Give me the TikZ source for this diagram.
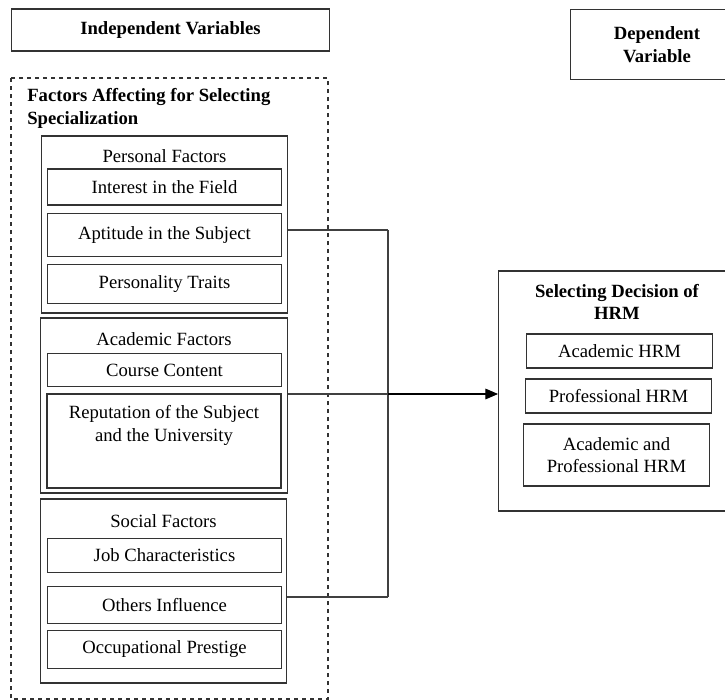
\documentclass[tikz,border=0pt]{standalone}
\usepackage{fontspec}
\setmainfont{Liberation Serif}
\usetikzlibrary{calc,positioning,arrows.meta}

\begin{document}
\begin{tikzpicture}[x=0.75pt,y=-0.75pt,>={Triangle[length=9.5pt,width=8pt]},font=\fontsize{14}{17}\selectfont]

	\tikzset{
		box/.style={draw=black!80,line width=0.9pt,rectangle,inner sep=0pt,align=center},
		bold text/.style={font=\fontsize{14}{17}\selectfont\bfseries},
		item box/.style={box,minimum width=175.5pt},
		group box/.style={box,minimum width=185pt},
		link/.style={draw=black!75,line width=0.8pt}
	}

	\useasboundingbox (0,0) rectangle (725,700);

	\node[box,bold text,minimum width=239pt,minimum height=31.5pt] (indep) at (170.5,30) {Independent Variables};
	\node[box,bold text,minimum width=130pt,minimum height=53pt] (dep) at (657,44.5) {Dependent\\Variable};

	\draw[dashed,draw=black!80,line width=0.8pt] (11,78) rectangle (328,699);
	\node[anchor=west,align=left,bold text,inner sep=0pt] (title) at (27,108.5) {Factors Affecting for Selecting\\Specialization};

	\node[group box,minimum height=132.75pt] (pers) at (164.5,224.5) {};
	\node[group box,minimum height=131.25pt] (acad) at (164,405.5) {};
	\node[group box,minimum height=138pt] (soc) at (163.5,591) {};

	\node (perst) at (164.5,156) {Personal Factors};
	\node (acadt) at (164,339) {Academic Factors};
	\node (soct) at (163.5,521) {Social Factors};

	\foreach \nm/\cy/\h/\txt in {int/187/36/Interest in the Field, apt/235/43/Aptitude in the Subject, trait/284/39/Personality Traits,
			course/370/33/Course Content, job/555.5/34/Job Characteristics, oth/605/37/Others Influence, occ/649.5/38/Occupational Prestige} {
			\node[item box,minimum height=0.75*\h pt] (\nm) at (164.5,\cy) {\txt};
		}

	\node[item box,minimum height=70.5pt] (rep) at (164,441) {};
	\node[align=center,inner sep=0pt] (rept) at (164,425.5) {Reputation of the Subject\\and the University};

	\node[box,minimum width=170pt,minimum height=180pt] (sel) at (612,391) {};
	\node[align=center,bold text,inner sep=0pt] (selt) at (617,302) {Selecting Decision of\\HRM};
	\node[box,minimum width=140pt,minimum height=25.5pt] (ahrm) at (619.5,351) {Academic HRM};
	\node[box,minimum width=140pt,minimum height=25.5pt] (phrm) at (618.5,396) {Professional HRM};
	\node[box,minimum width=140pt,minimum height=46.5pt] (aphrm) at (616.5,455) {Academic and\\Professional HRM};

	\coordinate (jtop) at (388,230);
	\coordinate (jmid) at (388,394);
	\coordinate (jbot) at (388,597);

	\draw[link] (pers.east |- jtop) -- (jtop);
	\draw[link] (acad.east |- jmid) -- (jmid);
	\draw[link] (soc.east |- jbot) -- (jbot);
	\draw[link] (jtop) -- (jbot);
	\draw[link,->,draw=black] (jmid) -- (sel.west |- jmid);
\end{tikzpicture}
\end{document}
